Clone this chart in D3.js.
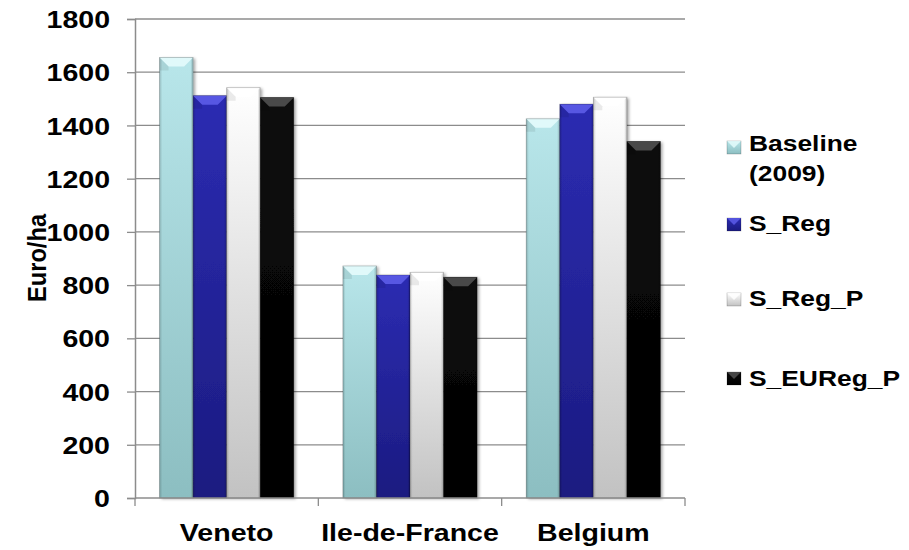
<!DOCTYPE html>
<html><head><meta charset="utf-8">
<script src="https://cdn.jsdelivr.net/npm/d3@7"></script>
<style>body{margin:0;background:#fff}text{font-family:"Liberation Sans",Arial,sans-serif;font-weight:bold;fill:#000}</style>
</head><body><svg id="c" width="909" height="550"></svg>
<script>
const categories = ["Veneto", "Ile-de-France", "Belgium"];
const seriesNames = ["Baseline (2009)", "S_Reg", "S_Reg_P", "S_EUReg_P"];
const baseline = [1655, 872, 1425];
const sReg = [1512, 838, 1480];
const sRegP = [1542, 848, 1506];
const sEURegP = [1505, 830, 1340];
const yTicks = [0, 200, 400, 600, 800, 1000, 1200, 1400, 1600, 1800];
const yTitle = "Euro/ha";
const legendLines = [["Baseline", "(2009)"], ["S_Reg"], ["S_Reg_P"], ["S_EUReg_P"]];

const seriesValues = [baseline, sReg, sRegP, sEURegP];
const palette = [
  {hi:"#b8e6ea", lo:"#8cbec1", bevel:"#e4fbfc"},
  {hi:"#2c2cb2", lo:"#1b1b80", bevel:"#5c5ce8"},
  {hi:"#ffffff", lo:"#c2c2c2", bevel:"#ffffff"},
  {hi:"#0c0c0c", lo:"#000000", bevel:"#505050"}
];
const SX = 1.19;

const svg = d3.select("#c");
const defs = svg.append("defs");
palette.forEach((p,i)=>{
  const g = defs.append("linearGradient").attr("id","g"+i).attr("x1",0).attr("y1",0).attr("x2",0).attr("y2",1);
  g.append("stop").attr("offset","0%").attr("stop-color",p.hi);
  g.append("stop").attr("offset","100%").attr("stop-color",p.lo);
  const s = defs.append("linearGradient").attr("id","s"+i).attr("x1",0).attr("y1",0).attr("x2",1).attr("y2",0);
  s.append("stop").attr("offset","0%").attr("stop-color","#000").attr("stop-opacity",0.18);
  s.append("stop").attr("offset","8%").attr("stop-color","#000").attr("stop-opacity",0);
  s.append("stop").attr("offset","92%").attr("stop-color","#000").attr("stop-opacity",0);
  s.append("stop").attr("offset","100%").attr("stop-color","#000").attr("stop-opacity",0.22);
});
const f = defs.append("filter").attr("id","sh").attr("x","-20%").attr("y","-5%").attr("width","150%").attr("height","115%");
f.append("feDropShadow").attr("dx",2).attr("dy",1).attr("stdDeviation",1.5).attr("flood-color","#000").attr("flood-opacity",0.35);

const x = d3.scaleBand().domain(categories).range([135, 685]).padding(0);
const bw = x.bandwidth();
const x1 = d3.scaleBand().domain(seriesNames).range([bw*0.134, bw*0.866]).padding(0);
const y = d3.scaleLinear().domain([0, 1800]).range([498, 19]);

// gridlines
svg.append("g").selectAll("line").data(yTicks.filter(d=>d>0)).join("line")
  .attr("x1",135).attr("x2",685).attr("y1",d=>y(d)).attr("y2",d=>y(d))
  .attr("stroke","#8c8c8c").attr("stroke-width",1.3);

// bars
const groups = svg.append("g").selectAll("g").data(categories).join("g")
  .attr("transform",d=>`translate(${x(d)},0)`);
groups.each(function(cat,ci){
  const g = d3.select(this);
  seriesNames.forEach((s,si)=>{
    const v = seriesValues[si][ci];
    const x0 = x1(s), w = x1.bandwidth(), yt = y(v), h = y(0)-yt;
    const p = palette[si];
    const b = g.append("g");
    b.append("rect").attr("x",x0).attr("y",yt).attr("width",w).attr("height",h)
      .attr("fill",`url(#g${si})`).attr("filter","url(#sh)");
    b.append("rect").attr("x",x0).attr("y",yt).attr("width",w).attr("height",h).attr("fill",`url(#s${si})`);
    const bv = 9;
    b.append("polygon").attr("points",[[x0,yt],[x0+w,yt],[x0+w-bv,yt+bv],[x0+bv,yt+bv]].map(q=>q.join(",")).join(" "))
      .attr("fill",p.bevel).attr("opacity",0.9);
    b.append("polygon").attr("points",[[x0,yt],[x0+bv,yt+bv],[x0+bv,yt+bv+4],[x0,yt+bv+4]].map(q=>q.join(",")).join(" "))
      .attr("fill","#000").attr("opacity",0.08);
    b.append("rect").attr("x",x0).attr("y",yt).attr("width",w).attr("height",h)
      .attr("fill","none").attr("stroke","#000").attr("stroke-opacity",0.25).attr("stroke-width",0.8);
  });
});

// axes
const yAxis = svg.append("g").attr("transform","translate(135,0)")
  .call(d3.axisLeft(y).tickValues(yTicks).tickSize(8).tickPadding(17).tickFormat(d3.format("d")));
yAxis.select(".domain").attr("stroke","#8c8c8c").attr("stroke-width",1.5);
yAxis.selectAll(".tick line").attr("stroke","#8c8c8c").attr("stroke-width",1.3);
yAxis.selectAll("text").style("font-size","24px").attr("x",0).attr("dy","0.36em")
  .attr("transform",`translate(-25,0) scale(${SX},1)`);

const xAxisG = svg.append("g");
xAxisG.append("line").attr("x1",135).attr("x2",685).attr("y1",y(0)).attr("y2",y(0)).attr("stroke","#8c8c8c").attr("stroke-width",1.5);
const tickPos = categories.map(d=>x(d)).concat([x(categories[categories.length-1])+bw]);
xAxisG.selectAll("line.t").data(tickPos).join("line").attr("class","t")
  .attr("x1",d=>d).attr("x2",d=>d)
  .attr("y1",y(0)).attr("y2",y(0)+8).attr("stroke","#8c8c8c").attr("stroke-width",1.3);
xAxisG.selectAll("text").data(categories).join("text")
  .attr("transform",d=>`translate(${x(d)+bw/2},541) scale(${SX},1)`)
  .attr("text-anchor","middle").style("font-size","24px").text(d=>d);

svg.append("text").attr("transform","translate(46,258) rotate(-90) scale(1.03,1.12)").attr("text-anchor","middle")
  .style("font-size","23px").text(yTitle);

// legend
const legendRows = [
  {base:151, my:141},
  {base:231, my:218},
  {base:306, my:293},
  {base:386, my:372}
];
const lg = svg.append("g");
legendRows.forEach((r,i)=>{
  const p = palette[i];
  const m = lg.append("g");
  m.append("rect").attr("x",727).attr("y",r.my).attr("width",14).attr("height",13).attr("fill",`url(#g${i})`)
    .attr("stroke","#000").attr("stroke-opacity",0.3).attr("stroke-width",0.6);
  m.append("polygon").attr("points",[[727,r.my],[741,r.my],[734,r.my+7]].map(q=>q.join(",")).join(" ")).attr("fill",p.bevel).attr("opacity",0.85);
  legendLines[i].forEach((l,j)=>{
    lg.append("text").attr("transform",`translate(749,${r.base + j*30}) scale(1.2,1)`)
      .style("font-size","22px").text(l);
  });
});
</script></body></html>
